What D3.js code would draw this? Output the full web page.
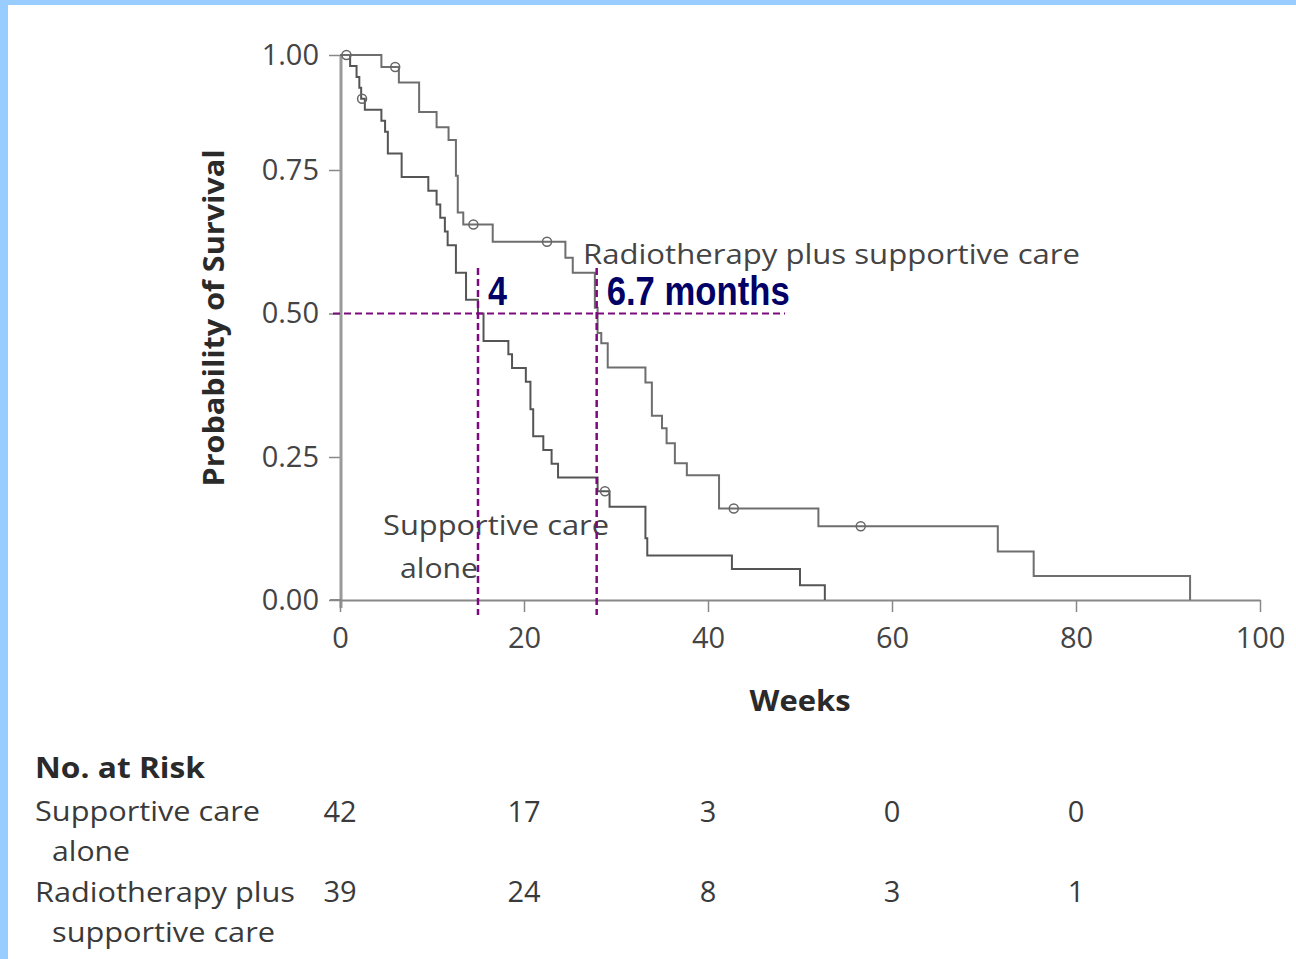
<!DOCTYPE html>
<html>
<head>
<meta charset="utf-8">
<script src="https://cdn.jsdelivr.net/npm/d3@7/dist/d3.min.js"></script>
<style>
  html, body { margin: 0; padding: 0; background: #fff; }
  svg { display: block; }
  text { font-family: "Open Sans", "Lato", sans-serif; }
</style>
</head>
<body>
<svg id="chart" width="1296" height="959"></svg>
<script>
// ---------------- data ----------------
const xTicks = [0, 20, 40, 60, 80, 100];
const yTicks = [0, 0.25, 0.5, 0.75, 1.0];
const yTickLabels = ["0.00", "0.25", "0.50", "0.75", "1.00"];

// Radiotherapy plus supportive care (Kaplan-Meier steps: week, survival after step)
const radioTimes = [0, 4.5, 6.4, 8.6, 10.5, 11.8, 12.6, 12.8, 13.4, 16.6, 24.5, 25.3, 27.7, 28.0, 28.4, 29.1, 33.2, 33.9, 35.0, 35.5, 36.4, 37.7, 41.2, 52.0, 71.5, 75.4, 92.4];
const radioSurv  = [1.0, 0.974, 0.94, 0.876, 0.843, 0.815, 0.74, 0.676, 0.655, 0.625, 0.597, 0.571, 0.51, 0.466, 0.448, 0.406, 0.380, 0.322, 0.300, 0.274, 0.239, 0.218, 0.160, 0.129, 0.085, 0.042, 0.0];
const radioCensorT = [0.7, 6.0, 14.5, 22.5, 42.8, 56.6];
const radioCensorS = [1.0, 0.974, 0.655, 0.625, 0.160, 0.129];

// Supportive care alone
const suppTimes = [0, 1.1, 1.8, 2.1, 2.3, 2.7, 4.5, 4.9, 5.2, 6.7, 9.6, 10.5, 10.9, 11.4, 11.7, 12.6, 13.7, 15.0, 15.6, 18.3, 18.7, 20.2, 20.7, 21.0, 22.1, 23.0, 23.7, 28.0, 29.3, 33.2, 33.4, 42.6, 50.0, 52.7];
const suppSurv  = [1.0, 0.976, 0.952, 0.929, 0.905, 0.881, 0.857, 0.833, 0.786, 0.738, 0.714, 0.690, 0.667, 0.643, 0.619, 0.571, 0.524, 0.50, 0.452, 0.429, 0.405, 0.381, 0.333, 0.286, 0.262, 0.238, 0.214, 0.190, 0.163, 0.108, 0.078, 0.054, 0.026, 0.0];
const suppCensorT = [2.4, 28.8];
const suppCensorS = [0.905, 0.190];

// Median annotations
const medianLevel = 0.5;
const medianWeeks = [15.0, 27.9];
const medianLabels = ["4", "6.7 months"];

// Number at risk table
const riskWeeks = [0, 20, 40, 60, 80];
const riskSupp  = [42, 17, 3, 0, 0];
const riskRadio = [39, 24, 8, 3, 1];

// ---------------- drawing ----------------
const svg = d3.select("#chart");
const GREY_TEXT = "#3a3a3a";

// light blue frame (left and top)
svg.append("rect").attr("x", 0).attr("y", 0).attr("width", 1296).attr("height", 5).attr("fill", "#99ccff");
svg.append("rect").attr("x", 0).attr("y", 0).attr("width", 8).attr("height", 959).attr("fill", "#99ccff");

const x = d3.scaleLinear().domain([0, 100]).range([340, 1260]);
const y = d3.scaleLinear().domain([0, 0.25, 0.5, 0.75, 1.0]).range([600, 457, 313.5, 170, 55]);

// Y axis
const yAxis = d3.axisLeft(y).tickValues(yTicks)
  .tickFormat((d, i) => yTickLabels[i]).tickSize(12).tickPadding(10).tickSizeOuter(0);
const gy = svg.append("g").attr("transform", "translate(341,0)").call(yAxis);
gy.select(".domain").remove();
gy.selectAll(".tick line").attr("stroke", "#888").attr("stroke-width", 1.5);
gy.selectAll(".tick text").attr("fill", "#444").style("font-size", "29px")
  .style("font-family", "'Open Sans', sans-serif");
svg.append("line").attr("x1", 341).attr("x2", 341).attr("y1", y(1)).attr("y2", y(0) + 8)
  .attr("stroke", "#999").attr("stroke-width", 3);

// X axis
const xAxis = d3.axisBottom(x).tickValues(xTicks).tickSize(12).tickPadding(15).tickSizeOuter(0);
const gx = svg.append("g").attr("transform", "translate(0,600)").call(xAxis);
gx.select(".domain").attr("stroke", "#888").attr("stroke-width", 2);
gx.selectAll(".tick line").attr("stroke", "#888").attr("stroke-width", 1.5);
gx.selectAll(".tick text").attr("fill", "#444").style("font-size", "29px")
  .style("font-family", "'Open Sans', sans-serif");
svg.append("line").attr("x1", 330).attr("x2", 341).attr("y1", 600).attr("y2", 600)
  .attr("stroke", "#888").attr("stroke-width", 2);

// axis titles
svg.append("text")
  .attr("transform", "translate(224,318) rotate(-90)")
  .attr("text-anchor", "middle")
  .attr("fill", "#2a2a2a").style("font-size", "29px").style("font-weight", "bold")
  .attr("textLength", 337).attr("lengthAdjust", "spacingAndGlyphs")
  .text("Probability of Survival");

svg.append("text").attr("x", 800).attr("y", 711).attr("text-anchor", "middle")
  .attr("fill", "#2a2a2a").style("font-size", "29px").style("font-weight", "bold")
  .attr("textLength", 101).attr("lengthAdjust", "spacingAndGlyphs")
  .text("Weeks");

// curves
const line = d3.line().x(d => x(d[0])).y(d => y(d[1])).curve(d3.curveStepAfter);
const radioPts = radioTimes.map((t, i) => [t, radioSurv[i]]);
const suppPts = suppTimes.map((t, i) => [t, suppSurv[i]]);

svg.append("path").datum(suppPts).attr("d", line)
  .attr("fill", "none").attr("stroke", "#555").attr("stroke-width", 2);
svg.append("path").datum(radioPts).attr("d", line)
  .attr("fill", "none").attr("stroke", "#6e6e6e").attr("stroke-width", 2);

// censor marks
const censors = radioCensorT.map((t, i) => [t, radioCensorS[i]])
  .concat(suppCensorT.map((t, i) => [t, suppCensorS[i]]));
svg.selectAll("circle.censor").data(censors).enter().append("circle")
  .attr("class", "censor")
  .attr("cx", d => x(d[0])).attr("cy", d => y(d[1])).attr("r", 4.5)
  .attr("fill", "none").attr("stroke", "#666").attr("stroke-width", 1.5);

// curve labels
svg.append("text").attr("x", 583).attr("y", 264).attr("fill", "#444")
  .style("font-size", "28px")
  .attr("textLength", 497).attr("lengthAdjust", "spacingAndGlyphs")
  .text("Radiotherapy plus supportive care");
svg.append("text").attr("x", 383).attr("y", 535).attr("fill", "#444")
  .style("font-size", "28px")
  .attr("textLength", 226).attr("lengthAdjust", "spacingAndGlyphs")
  .text("Supportive care");
svg.append("text").attr("x", 400).attr("y", 578).attr("fill", "#444")
  .style("font-size", "28px")
  .attr("textLength", 78).attr("lengthAdjust", "spacingAndGlyphs")
  .text("alone");

// median dashed lines
const PURPLE = "#7d0a7d";
svg.append("line").attr("x1", 333).attr("x2", 785)
  .attr("y1", y(medianLevel)).attr("y2", y(medianLevel))
  .attr("stroke", PURPLE).attr("stroke-width", 2).attr("stroke-dasharray", "7,4");
svg.selectAll("line.med").data(medianWeeks).enter().append("line")
  .attr("class", "med")
  .attr("x1", d => x(d)).attr("x2", d => x(d))
  .attr("y1", 268).attr("y2", 615)
  .attr("stroke", PURPLE).attr("stroke-width", 2.5).attr("stroke-dasharray", "7,4");

const medLabelWidths = [19, 183];
svg.selectAll("text.medlab").data(medianLabels).enter().append("text")
  .attr("class", "medlab")
  .attr("x", (d, i) => x(medianWeeks[i]) + 10)
  .attr("y", 305)
  .attr("fill", "#000066")
  .style("font-family", "'Liberation Sans Narrow', 'Liberation Sans', Arial, sans-serif")
  .style("font-weight", "bold").style("font-size", "40px")
  .attr("textLength", (d, i) => medLabelWidths[i]).attr("lengthAdjust", "spacingAndGlyphs")
  .text(d => d);

// Number at risk
svg.append("text").attr("x", 35).attr("y", 778).attr("fill", "#2a2a2a")
  .style("font-size", "29px").style("font-weight", "bold")
  .attr("textLength", 170).attr("lengthAdjust", "spacingAndGlyphs")
  .text("No. at Risk");

const rowLabels = [
  { t: "Supportive care", x: 35, y: 821, w: 225 },
  { t: "alone", x: 52, y: 861, w: 78 },
  { t: "Radiotherapy plus", x: 35, y: 902, w: 260 },
  { t: "supportive care", x: 52, y: 942, w: 223 }
];
svg.selectAll("text.rowlab").data(rowLabels).enter().append("text")
  .attr("class", "rowlab")
  .attr("x", d => d.x).attr("y", d => d.y).attr("fill", "#3a3a3a")
  .style("font-size", "28px")
  .attr("textLength", d => d.w).attr("lengthAdjust", "spacingAndGlyphs")
  .text(d => d.t);

function riskRow(vals, yy) {
  svg.append("g").selectAll("text").data(vals).enter().append("text")
    .attr("x", (d, i) => x(riskWeeks[i])).attr("y", yy)
    .attr("text-anchor", "middle").attr("fill", "#3a3a3a")
    .style("font-size", "29px")
    .text(d => d);
}
riskRow(riskSupp, 822);
riskRow(riskRadio, 902);
</script>
</body>
</html>
